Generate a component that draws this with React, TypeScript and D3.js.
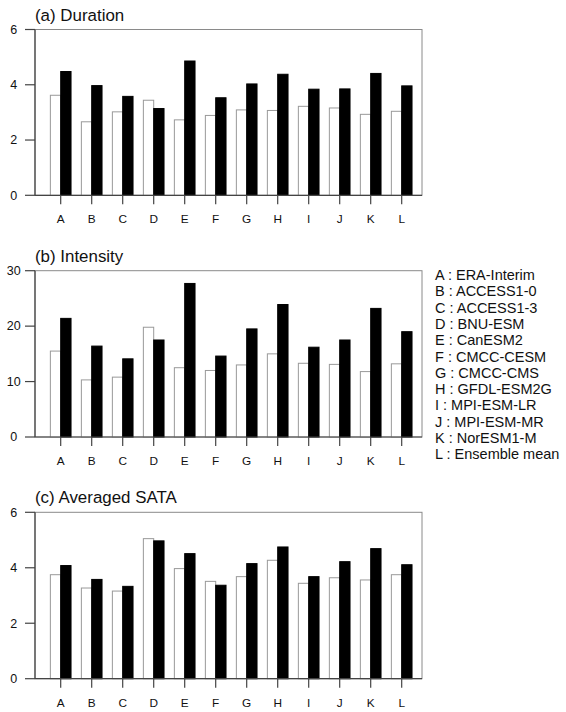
import React from "react";
import * as d3 from "d3";

// Category letters and the model each one stands for
const categories = ["A", "B", "C", "D", "E", "F", "G", "H", "I", "J", "K", "L"];
const models = [
  "ERA-Interim",
  "ACCESS1-0",
  "ACCESS1-3",
  "BNU-ESM",
  "CanESM2",
  "CMCC-CESM",
  "CMCC-CMS",
  "GFDL-ESM2G",
  "MPI-ESM-LR",
  "MPI-ESM-MR",
  "NorESM1-M",
  "Ensemble mean",
];

// (a) Duration
const durationOpen = [3.62, 2.66, 3.02, 3.44, 2.73, 2.89, 3.09, 3.07, 3.22, 3.16, 2.93, 3.04];
const durationFilled = [4.48, 3.97, 3.58, 3.14, 4.86, 3.53, 4.03, 4.38, 3.84, 3.85, 4.41, 3.96];

// (b) Intensity
const intensityOpen = [15.5, 10.3, 10.8, 19.8, 12.5, 12.0, 13.0, 15.0, 13.3, 13.1, 11.8, 13.2];
const intensityFilled = [21.4, 16.4, 14.1, 17.5, 27.7, 14.6, 19.5, 23.9, 16.2, 17.5, 23.2, 19.0];

// (c) Averaged SATA
const sataOpen = [3.75, 3.27, 3.16, 5.05, 3.97, 3.51, 3.68, 4.27, 3.44, 3.64, 3.56, 3.75];
const sataFilled = [4.08, 3.58, 3.33, 4.97, 4.51, 3.37, 4.15, 4.75, 3.68, 4.22, 4.69, 4.11];

const durationTicks = [0, 2, 4, 6];
const intensityTicks = [0, 10, 20, 30];
const sataTicks = [0, 2, 4, 6];

const FONT = "'Liberation Sans', Arial, Helvetica, sans-serif";

type PanelProps = {
  title: string;
  top: number;
  bottom: number;
  ticks: number[];
  open: number[];
  filled: number[];
};

const left = 35;
const right = 422;

// Bars sit either side of each category position (1..12), each a third of a slot wide
const x = d3.scaleLinear().domain([0.171, 12.655]).range([left, right]);
const barW = 1 / 3;

function Panel({ title, top, bottom, ticks, open, filled }: PanelProps) {
  const y = d3
    .scaleLinear()
    .domain([0, ticks[ticks.length - 1]])
    .range([bottom, top]);
  return (
    <g>
      <text x={left} y={top - 9} fontSize={16.9} fontFamily={FONT} fill="#111">
        {title}
      </text>
      <rect x={left} y={top} width={right - left} height={bottom - top} fill="none" stroke="#8a8a8a" strokeWidth={1} />
      {categories.map((c, i) => {
        const pos = i + 1;
        const x0 = x(pos - barW);
        const x1 = x(pos);
        const x2 = x(pos + barW);
        return (
          <g key={c}>
            <rect
              x={x0}
              y={y(open[i])}
              width={x1 - x0}
              height={bottom - y(open[i])}
              fill="#fff"
              stroke="#999"
              strokeWidth={1}
            />
            <rect
              x={x1}
              y={y(filled[i])}
              width={x2 - x1}
              height={bottom - y(filled[i])}
              fill="#000"
              stroke="#000"
              strokeWidth={1}
            />
          </g>
        );
      })}
      <line x1={left} x2={left} y1={top} y2={bottom} stroke="#444" strokeWidth={1.2} />
      <line x1={left} x2={right} y1={bottom} y2={bottom} stroke="#444" strokeWidth={1.2} />
      {ticks.map((t) => (
        <g key={t}>
          <line x1={left - 10} x2={left} y1={y(t)} y2={y(t)} stroke="#444" strokeWidth={1.2} />
          <text
            x={13.8}
            y={y(t) + 4.3}
            textAnchor="middle"
            fontSize={12.5}
            fontFamily={FONT}
            fill="#111"
          >
            {t}
          </text>
        </g>
      ))}
      {categories.map((c, i) => (
        <g key={c}>
          <line x1={x(i + 1)} x2={x(i + 1)} y1={bottom} y2={bottom + 9} stroke="#444" strokeWidth={1.2} />
          <text
            x={x(i + 1)}
            y={bottom + 28}
            textAnchor="middle"
            fontSize={11.8}
            fontFamily={FONT}
            fill="#111"
          >
            {c}
          </text>
        </g>
      ))}
    </g>
  );
}

export default function App() {
  return (
    <div style={{ position: "absolute", left: 0, top: 0 }}>
      <svg width={566} height={712} style={{ display: "block", background: "#fff" }}>
        <Panel title="(a) Duration" top={29.5} bottom={195.3} ticks={durationTicks} open={durationOpen} filled={durationFilled} />
        <Panel title="(b) Intensity" top={270.7} bottom={437} ticks={intensityTicks} open={intensityOpen} filled={intensityFilled} />
        <Panel title="(c) Averaged SATA" top={512.3} bottom={678.7} ticks={sataTicks} open={sataOpen} filled={sataFilled} />
        {categories.map((c, i) => (
          <text
            key={c}
            x={435}
            y={275 + i * 16.3 + 5}
            fontSize={14.5}
            fontFamily={FONT}
            fill="#111"
          >
            {`${c} : ${models[i]}`}
          </text>
        ))}
      </svg>
    </div>
  );
}
